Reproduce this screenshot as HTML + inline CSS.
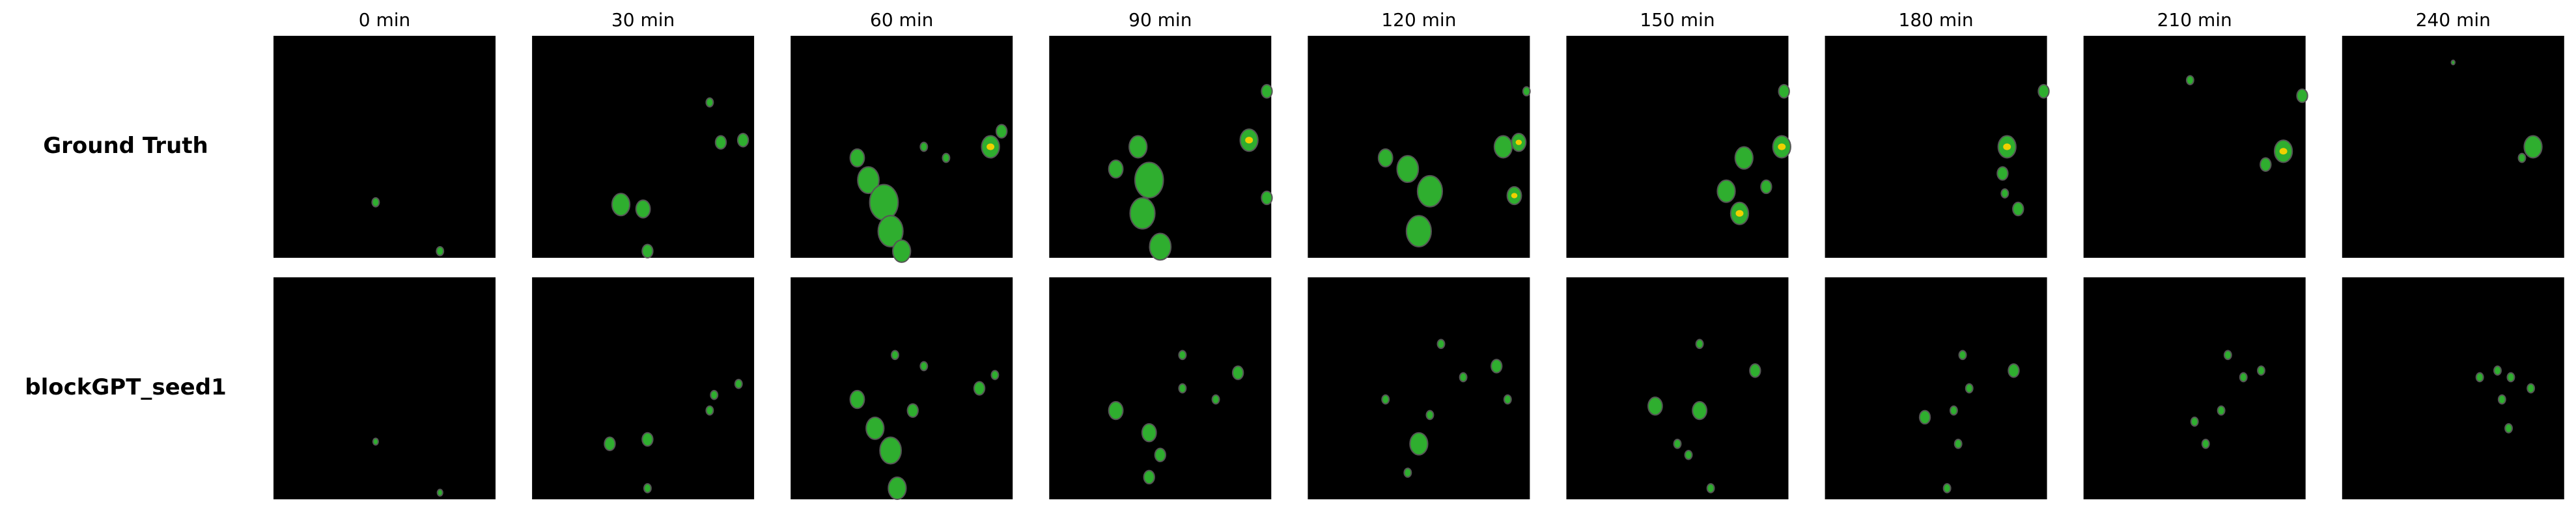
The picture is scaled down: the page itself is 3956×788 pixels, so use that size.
<!DOCTYPE html>
<html><head><meta charset="utf-8"><style>
html,body{margin:0;padding:0;background:#fff;overflow:hidden;}
svg{display:block;}
</style></head><body>
<svg id="fig" width="3956" height="788" xmlns="http://www.w3.org/2000/svg"></svg>
<script>
const timeLabels = ["0 min","30 min","60 min","90 min","120 min","150 min","180 min","210 min","240 min"];
const rowLabels = ["Ground Truth","blockGPT_seed1"];
// blobs per panel: [u, v, size, intense(0/1)] in normalized panel coords
const truthBlobs = [
 [[0.46,0.75,0.02,0],[0.75,0.97,0.02,0]],
 [[0.4,0.76,0.05,0],[0.5,0.78,0.04,0],[0.52,0.97,0.03,0],[0.85,0.48,0.03,0],[0.95,0.47,0.03,0],[0.8,0.3,0.02,0]],
 [[0.35,0.65,0.06,0],[0.42,0.75,0.08,0],[0.45,0.88,0.07,0],[0.5,0.97,0.05,0],[0.3,0.55,0.04,0],[0.9,0.5,0.05,1],[0.95,0.43,0.03,0],[0.6,0.5,0.02,0],[0.7,0.55,0.02,0]],
 [[0.4,0.5,0.05,0],[0.45,0.65,0.08,0],[0.42,0.8,0.07,0],[0.5,0.95,0.06,0],[0.3,0.6,0.04,0],[0.9,0.47,0.05,1],[0.98,0.25,0.03,0],[0.98,0.73,0.03,0]],
 [[0.45,0.6,0.06,0],[0.55,0.7,0.07,0],[0.5,0.88,0.07,0],[0.35,0.55,0.04,0],[0.88,0.5,0.05,0],[0.95,0.48,0.04,1],[0.93,0.72,0.04,1],[1.0,0.25,0.02,0]],
 [[0.8,0.55,0.05,0],[0.72,0.7,0.05,0],[0.78,0.8,0.05,1],[0.9,0.68,0.03,0],[0.97,0.5,0.05,1],[0.98,0.25,0.03,0]],
 [[0.82,0.5,0.05,1],[0.8,0.62,0.03,0],[0.81,0.71,0.02,0],[0.87,0.78,0.03,0],[0.99,0.25,0.03,0]],
 [[0.9,0.52,0.05,1],[0.82,0.58,0.03,0],[0.99,0.27,0.03,0],[0.48,0.2,0.02,0]],
 [[0.86,0.5,0.05,0],[0.81,0.55,0.02,0],[0.5,0.12,0.01,0]]
];
const predBlobs = [
 [[0.46,0.74,0.015,0],[0.75,0.97,0.015,0]],
 [[0.35,0.75,0.03,0],[0.52,0.73,0.03,0],[0.52,0.95,0.02,0],[0.82,0.53,0.02,0],[0.93,0.48,0.02,0],[0.8,0.6,0.02,0]],
 [[0.3,0.55,0.04,0],[0.38,0.68,0.05,0],[0.45,0.78,0.06,0],[0.48,0.95,0.05,0],[0.55,0.6,0.03,0],[0.85,0.5,0.03,0],[0.92,0.44,0.02,0],[0.47,0.35,0.02,0],[0.6,0.4,0.02,0]],
 [[0.3,0.6,0.04,0],[0.45,0.7,0.04,0],[0.5,0.8,0.03,0],[0.45,0.9,0.03,0],[0.6,0.35,0.02,0],[0.85,0.43,0.03,0],[0.75,0.55,0.02,0],[0.6,0.5,0.02,0]],
 [[0.5,0.75,0.05,0],[0.45,0.88,0.02,0],[0.55,0.62,0.02,0],[0.7,0.45,0.02,0],[0.85,0.4,0.03,0],[0.9,0.55,0.02,0],[0.6,0.3,0.02,0],[0.35,0.55,0.02,0]],
 [[0.4,0.58,0.04,0],[0.6,0.6,0.04,0],[0.55,0.8,0.02,0],[0.65,0.95,0.02,0],[0.85,0.42,0.03,0],[0.6,0.3,0.02,0],[0.5,0.75,0.02,0]],
 [[0.45,0.63,0.03,0],[0.58,0.6,0.02,0],[0.6,0.75,0.02,0],[0.65,0.5,0.02,0],[0.85,0.42,0.03,0],[0.62,0.35,0.02,0],[0.55,0.95,0.02,0]],
 [[0.5,0.65,0.02,0],[0.62,0.6,0.02,0],[0.72,0.45,0.02,0],[0.8,0.42,0.02,0],[0.65,0.35,0.02,0],[0.55,0.75,0.02,0]],
 [[0.85,0.5,0.02,0],[0.76,0.45,0.02,0],[0.7,0.42,0.02,0],[0.72,0.55,0.02,0],[0.62,0.45,0.02,0],[0.75,0.68,0.02,0]]
];
const NS="http://www.w3.org/2000/svg";
const svg=document.getElementById('fig');
const X0=420, DX=397.1, PW=341, ROWY=[55,426], PH=341;
function mk(tag,attrs){const e=document.createElementNS(NS,tag);for(const k in attrs)e.setAttribute(k,attrs[k]);svg.appendChild(e);return e;}
timeLabels.forEach((t,i)=>{
  const e=mk('text',{x:X0+i*DX+PW/2,y:32,'text-anchor':'middle','dominant-baseline':'middle','font-family':'DejaVu Sans, Liberation Sans, sans-serif','font-size':'28',fill:'#000'});
  e.textContent=t;
  
  
});
rowLabels.forEach((r,ri)=>{
  const e=mk('text',{x:193,y:ROWY[ri]+PH/2,'text-anchor':'middle','dominant-baseline':'middle','font-family':'DejaVu Sans, Liberation Sans, sans-serif','font-size':'34','font-weight':'bold',fill:'#000'});
  e.textContent=r;
  
  
});
[truthBlobs,predBlobs].forEach((rows,ri)=>{
  rows.forEach((blobs,ci)=>{
    const px=X0+ci*DX, py=ROWY[ri];
    const bg=mk('rect',{x:px,y:py,width:PW,height:PH,fill:'#000'});
    
    
    blobs.forEach(b=>{
      const cx=px+Math.min(b[0],0.985)*PW, cy=py+Math.min(b[1],0.985)*PH, r=b[2]*PW;
      const el=mk('ellipse',{cx:cx,cy:cy,rx:r*0.8,ry:r,fill:'#2fae2f',stroke:'#555',"stroke-width":2});
      
      
      if(b[3]){
        const y=mk('ellipse',{cx:cx,cy:cy,rx:r*0.35,ry:r*0.3,fill:'#f0d000'});
        
        
      }
    });
  });
});
</script>
</body></html>
